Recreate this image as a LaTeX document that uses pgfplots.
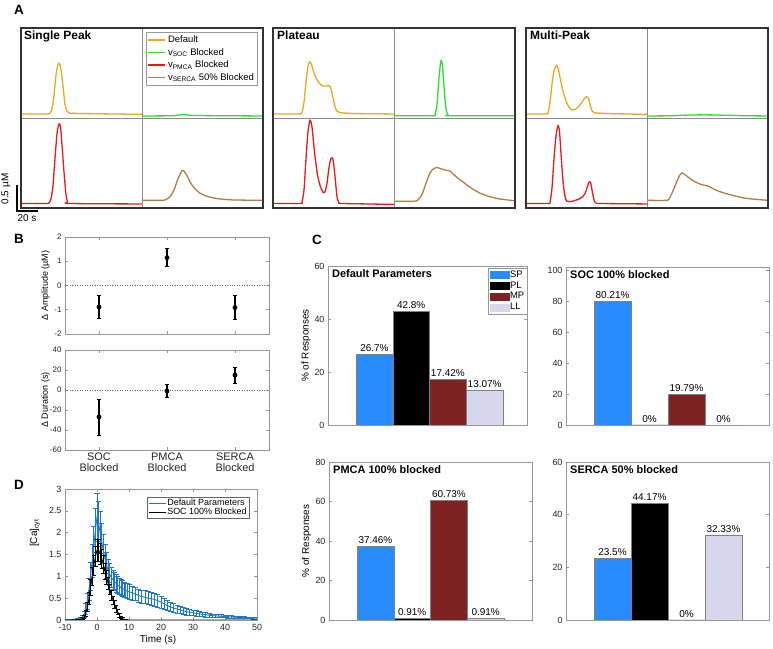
\documentclass[border=0pt]{standalone}
\usepackage{fontspec}
\setmainfont{Liberation Sans}
\usepackage{pgfplots}
\pgfplotsset{compat=1.18}
\definecolor{cOr}{RGB}{232,168,32}
\definecolor{cGr}{RGB}{40,225,40}
\definecolor{cRd}{RGB}{235,25,25}
\definecolor{cBr}{RGB}{176,124,72}
\definecolor{cSP}{RGB}{40,140,255}
\definecolor{cMP}{RGB}{125,35,35}
\definecolor{cLL}{RGB}{215,215,238}
\definecolor{cDB}{RGB}{30,120,200}
\definecolor{axg}{RGB}{150,150,150}
\pgfplotsset{
  sub/.style={scale only axis, width=121bp, height=90bp, xmin=0, xmax=121, ymin=0, ymax=2, hide axis, anchor=south west},
  aline/.style={line width=1.3bp, smooth, tension=0.45, no marks},
  mat/.style={scale only axis, anchor=south west, axis line style={axg}, tick style={axg, line width=0.5bp}, tick align=inside, major tick length=3bp,
     /pgf/number format/assume math mode=true, ticklabel style={black!85}},
  cbar/.style={mat, ybar, bar width=1, bar shift=0pt, ymin=0, xtick=\empty,
     ticklabel style={font=\fontsize{9}{9}\selectfont},
     nodes near coords, point meta=explicit symbolic,
     every node near coord/.style={font=\fontsize{10}{10}\selectfont, black, inner sep=2.5bp},
     ylabel style={font=\fontsize{10}{10}\selectfont, at={(axis description cs:-0.11,0.5)}, anchor=center}},
  bsty/.style={draw=black!50, line width=0.4bp},
}
\newcommand{\ctitle}[1]{\node[anchor=north west, inner sep=0pt, font=\bfseries\fontsize{11}{11}\selectfont] at (rel axis cs:0,1) [xshift=4bp, yshift=-3bp] {#1};}
\begin{document}
\begin{tikzpicture}[x=1bp,y=1bp]
\useasboundingbox (0bp,0bp) rectangle (773bp,649bp);
% ---------- panel letters
\node[font=\bfseries\fontsize{13.5}{13.5}\selectfont] at (19bp,639bp) {A};
\node[font=\bfseries\fontsize{13.5}{13.5}\selectfont] at (19bp,410bp) {B};
\node[font=\bfseries\fontsize{13.5}{13.5}\selectfont] at (317bp,409bp) {C};
\node[font=\bfseries\fontsize{13.5}{13.5}\selectfont] at (19bp,164bp) {D};
% ================= Panel A =================
% ---- Single Peak
\begin{axis}[sub, at={(21bp,531bp)}]
\addplot[cOr, aline] coordinates {(0,0.09)(26,0.09)(29,0.11)(31,0.2)(33,0.5)(35,0.95)(37,1.19)(38.5,1.21)(40,1.08)(42,0.7)(44,0.3)(46,0.15)(48,0.11)(60,0.1)(121,0.08)};
\end{axis}
\begin{axis}[sub, at={(142bp,531bp)},
  legend style={at={(axis description cs:0.033,0.956)}, anchor=north west, draw=black!40, fill=white, font=\fontsize{9.5}{10}\selectfont, inner sep=1.5bp, row sep=0.3bp, legend cell align=left},
  legend image code/.code={\draw[#1, line width=1.4bp] (0bp,0bp)--(17bp,0bp);}]
\addlegendimage{draw=cOr, line width=1.4bp}\addlegendentry{Default}
\addplot[cGr, aline] coordinates {(0,0.045)(30,0.05)(38,0.07)(41,0.08)(45,0.07)(55,0.055)(121,0.045)};
\addlegendentry{v\textsubscript{SOC} Blocked}
\addlegendimage{draw=cRd, line width=1.4bp}\addlegendentry{v\textsubscript{PMCA} Blocked}
\addlegendimage{draw=cBr, line width=1.4bp}\addlegendentry{v\textsubscript{SERCA} 50\% Blocked}
\end{axis}
\begin{axis}[sub, at={(21bp,441bp)}]
\addplot[cRd, aline] coordinates {(0,0.1)(25,0.1)(28,0.12)(30,0.2)(32,0.5)(34,1.1)(36,1.65)(38,1.87)(39.5,1.8)(41,1.4)(43,0.8)(45,0.3)(46.5,0.14)(49,0.1)(121,0.09)};
\end{axis}
\begin{axis}[sub, at={(142bp,441bp)}]
\addplot[cBr, aline] coordinates {(0,0.17)(20,0.17)(24,0.19)(28,0.25)(32,0.4)(36,0.65)(40,0.83)(42,0.82)(45,0.72)(48,0.58)(52,0.45)(58,0.33)(65,0.26)(75,0.21)(90,0.18)(121,0.17)};
\end{axis}
% ---- Plateau
\begin{axis}[sub, at={(273bp,531bp)}]
\addplot[cOr, aline] coordinates {(0,0.09)(26,0.09)(29,0.13)(31,0.35)(33,0.8)(35,1.15)(37,1.25)(39,1.15)(41,1.0)(44,0.85)(47,0.76)(50,0.71)(53,0.71)(56,0.72)(58,0.65)(60,0.45)(62,0.25)(64,0.15)(67,0.12)(80,0.1)(121,0.09)};
\end{axis}
\begin{axis}[sub, at={(394bp,531bp)}]
\addplot[cGr, aline] coordinates {(0,0.05)(38,0.05)(41,0.08)(43,0.3)(45,0.9)(47,1.27)(48.5,1.15)(50,0.7)(52,0.2)(54,0.07)(56,0.05)(121,0.05)};
\end{axis}
\begin{axis}[sub, at={(273bp,441bp)}]
\addplot[cRd, aline] coordinates {(0,0.1)(27,0.1)(29,0.14)(31,0.4)(33,1.1)(35,1.7)(37,1.95)(39,1.8)(41,1.35)(44,0.8)(47,0.5)(50,0.35)(52,0.36)(54,0.55)(56,0.9)(58,1.1)(60,1.08)(62,0.7)(64,0.25)(66,0.12)(70,0.1)(121,0.08)};
\end{axis}
\begin{axis}[sub, at={(394bp,441bp)}]
\addplot[cBr, aline] coordinates {(0,0.15)(20,0.15)(24,0.18)(28,0.3)(32,0.55)(36,0.78)(40,0.88)(43,0.9)(47,0.87)(52,0.84)(56,0.82)(60,0.74)(64,0.66)(69,0.58)(76,0.46)(86,0.33)(96,0.25)(106,0.2)(121,0.16)};
\end{axis}
% ---- Multi-Peak
\begin{axis}[sub, at={(526bp,531bp)}]
\addplot[cOr, aline] coordinates {(0,0.09)(20,0.09)(22,0.12)(24,0.35)(26,0.75)(28,1.05)(30.5,1.17)(32,1.12)(34,0.9)(37,0.6)(40,0.38)(43,0.24)(46,0.18)(49,0.19)(52,0.24)(55,0.32)(58,0.42)(60.5,0.47)(62.5,0.44)(64,0.3)(66,0.16)(68,0.12)(80,0.1)(121,0.08)};
\end{axis}
\begin{axis}[sub, at={(647bp,531bp)}]
\addplot[cGr, aline] coordinates {(0,0.045)(25,0.05)(40,0.065)(60,0.07)(80,0.06)(100,0.05)(121,0.045)};
\end{axis}
\begin{axis}[sub, at={(526bp,441bp)}]
\addplot[cRd, aline] coordinates {(0,0.1)(22,0.1)(24,0.13)(26,0.45)(28,1.1)(30,1.6)(32,1.83)(33.5,1.7)(35,1.2)(37,0.6)(39,0.25)(41,0.15)(44,0.14)(48,0.16)(52,0.19)(56,0.24)(59,0.32)(61,0.45)(63,0.57)(64.5,0.57)(66,0.4)(68,0.18)(70,0.11)(75,0.1)(121,0.09)};
\end{axis}
\begin{axis}[sub, at={(647bp,441bp)}]
\addplot[cBr, aline] coordinates {(0,0.17)(19,0.17)(22,0.2)(26,0.38)(30,0.6)(33,0.74)(35,0.78)(38,0.74)(42,0.67)(46,0.61)(51,0.55)(56,0.51)(61,0.49)(66,0.43)(72,0.37)(79,0.32)(86,0.28)(95,0.23)(105,0.2)(121,0.17)};
\end{axis}
% frames
\foreach \L/\M in {21/142, 273/394, 526/647}{
  \draw[black!45, line width=0.7bp] (\M bp,441bp) -- (\M bp,621bp);
  \draw[black!45, line width=0.7bp] (\L bp,531bp) -- ({(\L+242)*1bp},531bp);
  \draw[black!80, line width=1.3bp] (\L bp,441bp) rectangle ({(\L+242)*1bp},621bp);
}
\node[anchor=north west, inner sep=0pt, font=\bfseries\fontsize{12}{12}\selectfont] at (24bp,618bp) {Single Peak};
\node[anchor=north west, inner sep=0pt, font=\bfseries\fontsize{12}{12}\selectfont] at (277bp,618bp) {Plateau};
\node[anchor=north west, inner sep=0pt, font=\bfseries\fontsize{12}{12}\selectfont] at (530bp,618bp) {Multi-Peak};
% scale bar
\draw[line width=1.2bp] (17bp,464bp) -- (17bp,438bp) -- (38bp,438bp);
\node[rotate=90, font=\fontsize{10}{10}\selectfont] at (6bp,460bp) {0.5 µM};
\node[font=\fontsize{10}{10}\selectfont] at (27bp,431bp) {20 s};
% ================= Panel B =================
\begin{axis}[mat, at={(65bp,315bp)}, width=204bp, height=97bp, xmin=0.5, xmax=3.5, ymin=-2, ymax=2, ytick={-2,-1,0,1,2},
  xtick={1,2,3}, xticklabels=\empty, ticklabel style={font=\fontsize{8}{8}\selectfont},
  ylabel={Δ Amplitude (µM)}, ylabel style={font=\fontsize{9}{9}\selectfont, at={(axis description cs:-0.095,0.5)}, anchor=center}]
\addplot[black!60, dotted, line width=0.5bp] coordinates {(0.5,0)(3.5,0)};
\addplot[black, only marks, mark=*, mark size=2.2bp, error bars/.cd, y dir=both, y explicit, error bar style={line width=1.1bp}, error mark options={rotate=90, mark size=2bp, line width=0.9bp}]
 coordinates {(1,-0.89) +- (0,0.47) (2,1.15) +- (0,0.37) (3,-0.91) +- (0,0.5)};
\end{axis}
\begin{axis}[mat, at={(65bp,199bp)}, width=204bp, height=100bp, xmin=0.5, xmax=3.5, ymin=-60, ymax=40, ytick={-60,-40,-20,0,20,40},
  xtick={1,2,3}, xticklabels={SOC\\Blocked, PMCA\\Blocked, SERCA\\Blocked},
  yticklabel style={font=\fontsize{8}{8}\selectfont},
  xticklabel style={align=center, font=\fontsize{11}{11.5}\selectfont, yshift=1bp},
  ylabel={Δ Duration (s)}, ylabel style={font=\fontsize{9}{9}\selectfont, at={(axis description cs:-0.095,0.5)}, anchor=center}]
\addplot[black!60, dotted, line width=0.5bp] coordinates {(0.5,0)(3.5,0)};
\addplot[black, only marks, mark=*, mark size=2.2bp, error bars/.cd, y dir=both, y explicit, error bar style={line width=1.1bp}, error mark options={rotate=90, mark size=2bp, line width=0.9bp}]
 coordinates {(1,-27) +- (0,18) (2,-1) +- (0,6.5) (3,15) +- (0,8)};
\end{axis}
% ================= Panel C =================
\begin{axis}[cbar, at={(328bp,224bp)}, width=199bp, height=159bp, xmin=-0.262, xmax=5.153, ymax=60, ytick={0,20,40,60},
  ylabel={\% of Responses},
  legend style={at={(axis description cs:1,0.987)}, anchor=north east, draw=axg, font=\fontsize{9.5}{9.5}\selectfont, inner sep=1.5bp, row sep=0.8bp, legend cell align=left, nodes={inner sep=1bp}}]
\addplot[fill=cSP, bsty, legend image code/.code={\fill[cSP] (0bp,-3.5bp) rectangle (19bp,3.5bp);}] coordinates {(1,26.7) [26.7\%]};
\addlegendentry{SP}
\addplot[fill=black, bsty, legend image code/.code={\fill[black] (0bp,-3.5bp) rectangle (19bp,3.5bp);}] coordinates {(2,42.8) [42.8\%]};
\addlegendentry{PL}
\addplot[fill=cMP, bsty, legend image code/.code={\fill[cMP] (0bp,-3.5bp) rectangle (19bp,3.5bp);}] coordinates {(3,17.42) [17.42\%]};
\addlegendentry{MP}
\addplot[fill=cLL, bsty, legend image code/.code={\fill[cLL] (0bp,-3.5bp) rectangle (19bp,3.5bp);}] coordinates {(4,13.07) [13.07\%]};
\addlegendentry{LL}
\ctitle{Default Parameters}
\end{axis}
\begin{axis}[cbar, at={(566bp,224bp)}, width=203bp, height=158bp, xmin=-0.257, xmax=5.23, ymax=102.2, ytick={0,20,40,60,80,100}]
\addplot[fill=cSP, bsty] coordinates {(1,80.21) [80.21\%]};
\addplot[fill=black, bsty] coordinates {(2,0) [0\%]};
\addplot[fill=cMP, bsty] coordinates {(3,19.79) [19.79\%]};
\addplot[fill=cLL, bsty] coordinates {(4,0) [0\%]};
\ctitle{SOC 100\% blocked}
\end{axis}
\begin{axis}[cbar, at={(329bp,29bp)}, width=203bp, height=158bp, xmin=-0.262, xmax=5.26, ymax=80, ytick={0,20,40,60,80},
  ylabel={\% of Responses}]
\addplot[fill=cSP, bsty] coordinates {(1,37.46) [37.46\%]};
\addplot[fill=black, bsty] coordinates {(2,0.91) [0.91\%]};
\addplot[fill=cMP, bsty] coordinates {(3,60.73) [60.73\%]};
\addplot[fill=cLL, bsty] coordinates {(4,0.91) [0.91\%]};
\ctitle{PMCA 100\% blocked}
\end{axis}
\begin{axis}[cbar, at={(566bp,29bp)}, width=203bp, height=158bp, xmin=-0.257, xmax=5.23, ymax=60, ytick={0,20,40,60}]
\addplot[fill=cSP, bsty] coordinates {(1,23.5) [23.5\%]};
\addplot[fill=black, bsty] coordinates {(2,44.17) [44.17\%]};
\addplot[fill=cMP, bsty] coordinates {(3,0) [0\%]};
\addplot[fill=cLL, bsty] coordinates {(4,32.33) [32.33\%]};
\ctitle{SERCA 50\% blocked}
\end{axis}
% ================= Panel D =================
\begin{axis}[mat, at={(65bp,29bp)}, width=192bp, height=131bp, xmin=-10, xmax=50, ymin=0, ymax=3,
  xtick={-10,0,10,20,30,40,50}, ytick={0,0.5,1,1.5,2,2.5,3},
  ticklabel style={font=\fontsize{9}{9}\selectfont}, xticklabel style={yshift=-1bp},
  legend style={at={(axis description cs:0.958,0.939)}, anchor=north east, draw=black!60, font=\fontsize{9}{9}\selectfont, inner sep=1bp, row sep=-1.5bp, legend cell align=left, nodes={inner sep=1.2bp}}]
\addplot[cDB, line width=0.9bp, legend image code/.code={\draw[cDB, line width=1bp] (0bp,0bp)--(17bp,0bp);},
  error bars/.cd, y dir=both, y explicit, error bar style={line width=0.7bp}, error mark options={rotate=90, mark size=2.5bp, line width=0.7bp}]
 table[x=t, y=m, y error=e] {
t m e
-10 0.01 0.005
-9 0.01 0.005
-8 0.01 0.005
-7 0.015 0.005
-6 0.02 0.01
-5 0.04 0.02
-4.5 0.07 0.04
-4 0.13 0.07
-3.5 0.25 0.12
-3 0.42 0.18
-2.5 0.7 0.25
-2 1.0 0.32
-1.5 1.35 0.38
-1 1.7 0.45
-0.5 2.05 0.5
0 2.35 0.55
0.5 2.2 0.52
1 2.0 0.48
1.5 1.78 0.43
2 1.58 0.38
2.5 1.4 0.34
3 1.25 0.3
3.5 1.13 0.27
4 1.04 0.25
4.5 0.97 0.23
5 0.92 0.22
5.5 0.88 0.21
6 0.84 0.2
6.5 0.8 0.19
7 0.77 0.19
7.5 0.74 0.18
8 0.72 0.18
8.5 0.7 0.17
9 0.68 0.17
9.5 0.66 0.17
10 0.65 0.17
11 0.62 0.16
12 0.59 0.15
13 0.56 0.15
14 0.54 0.15
15 0.52 0.15
16 0.5 0.15
17 0.49 0.15
18 0.47 0.15
19 0.44 0.15
20 0.41 0.14
21 0.37 0.13
22 0.33 0.12
23 0.3 0.11
24 0.27 0.1
25 0.25 0.09
26 0.23 0.085
27 0.21 0.08
28 0.19 0.075
29 0.18 0.07
30 0.165 0.065
31 0.15 0.06
32 0.14 0.055
33 0.13 0.05
34 0.12 0.05
35 0.11 0.045
36 0.1 0.04
37 0.095 0.04
38 0.09 0.035
39 0.085 0.035
40 0.08 0.03
41 0.075 0.03
42 0.07 0.028
43 0.065 0.026
44 0.06 0.025
45 0.055 0.024
46 0.052 0.022
47 0.05 0.02
48 0.047 0.02
49 0.045 0.02
50 0.042 0.02
};
\addlegendentry{Default Parameters}
\addplot[black, line width=0.9bp, legend image code/.code={\draw[black, line width=1bp] (0bp,0bp)--(17bp,0bp);},
  error bars/.cd, y dir=both, y explicit, error bar style={line width=0.7bp}, error mark options={rotate=90, mark size=2.2bp, line width=0.7bp}]
 table[x=t, y=m, y error=e] {
t m e
-10 0 0
-8 0 0
-6 0.005 0.003
-5 0.01 0.005
-4.5 0.03 0.02
-4 0.07 0.04
-3.5 0.15 0.07
-3 0.3 0.1
-2.5 0.5 0.14
-2 0.75 0.18
-1.5 1.0 0.2
-1 1.25 0.22
-0.5 1.45 0.23
0 1.6 0.25
0.5 1.6 0.25
1 1.52 0.24
1.5 1.4 0.22
2 1.27 0.2
2.5 1.12 0.18
3 0.98 0.16
3.5 0.84 0.14
4 0.7 0.12
4.5 0.57 0.11
5 0.45 0.1
5.5 0.35 0.09
6 0.26 0.08
6.5 0.18 0.06
7 0.11 0.05
7.5 0.06 0.03
8 0.03 0.02
8.5 0.015 0.01
9 0.005 0.005
10 0 0
20 0 0
30 0 0
40 0 0
50 0 0
};
\addlegendentry{SOC 100\% Blocked}
\end{axis}
\node[rotate=90, font=\fontsize{10}{10}\selectfont] at (35bp,116bp) {[Ca]\textsubscript{cyt}};
\node[font=\fontsize{10}{10}\selectfont] at (158bp,9bp) {Time (s)};
\end{tikzpicture}
\end{document}
